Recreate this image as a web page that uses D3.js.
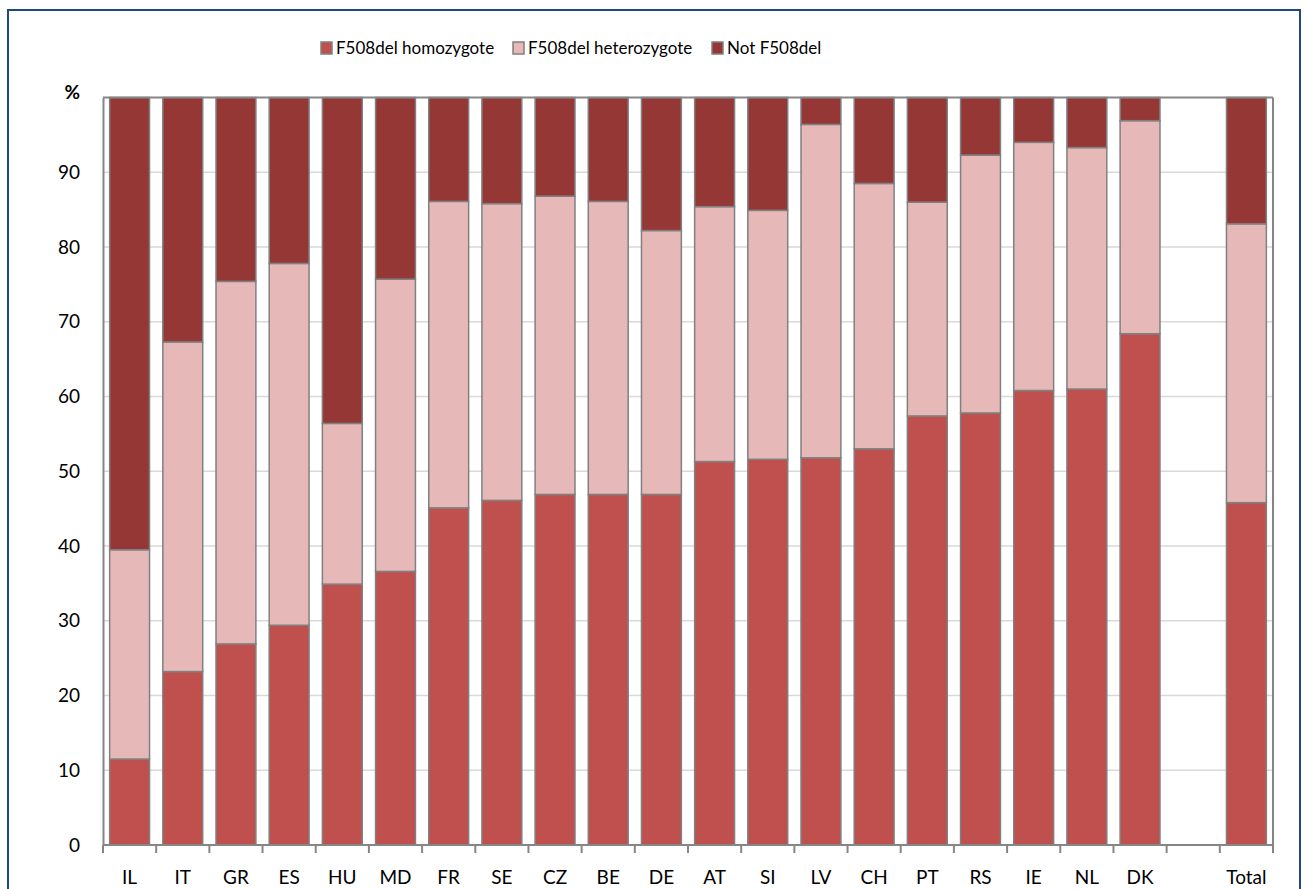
<!DOCTYPE html>
<html>
<head>
<meta charset="utf-8">
<script src="https://cdn.jsdelivr.net/npm/d3@7"></script>
<style>
  html, body { margin: 0; padding: 0; background: #fff; }
  svg { display: block; }
  text { font-family: Lato, "Open Sans", sans-serif; fill: #000; }
</style>
</head>
<body>
<svg id="chart" width="1308" height="889"></svg>
<script>
// ---- data ----
const categories = ["IL","IT","GR","ES","HU","MD","FR","SE","CZ","BE","DE","AT","SI","LV","CH","PT","RS","IE","NL","DK"," ","Total"];
const homozygote   = [11.5,23.2,26.9,29.4,34.9,36.6,45.1,46.1,46.9,46.9,46.9,51.3,51.6,51.8,53.0,57.4,57.8,60.8,61.0,68.4,null,45.8];
const heterozygote = [28.0,44.1,48.5,48.4,21.5,39.1,41.0,39.7,39.9,39.2,35.3,34.1,33.3,44.6,35.5,28.6,34.5,33.2,32.3,28.5,null,37.3];
const notF508del   = [60.5,32.7,24.6,22.2,43.6,24.3,13.9,14.2,13.2,13.9,17.8,14.6,15.1,3.6,11.5,14.0,7.7,6.0,6.7,3.1,null,16.9];
const seriesNames  = ["F508del homozygote","F508del heterozygote","Not F508del"];
const seriesColors = ["#c0504d","#e6b9b8","#953735"];
const yTicks = [0,10,20,30,40,50,60,70,80,90];

(function(){
// ---- layout ----
const svg = d3.select("#chart");
const pLeft = 103, pRight = 1273, pTop = 97.5, pBottom = 845;

// outer frame
svg.append("rect").attr("x",8).attr("y",10).attr("width",1292).attr("height",900)
  .attr("fill","none").attr("stroke","#1f497d").attr("stroke-width",2);

const x = d3.scaleBand().domain(categories).range([pLeft,pRight]).paddingInner(0.25).paddingOuter(0.125);
const y = d3.scaleLinear().domain([0,100]).range([pBottom,pTop]);

// gridlines
svg.append("g").selectAll("line").data(yTicks.filter(d=>d>0)).join("line")
  .attr("x1",pLeft).attr("x2",pRight).attr("y1",d=>y(d)).attr("y2",d=>y(d))
  .attr("stroke","#d9d9d9").attr("stroke-width",1.5);

// stacked data
const rows = categories.map((c,i)=>({cat:c, h:homozygote[i], he:heterozygote[i], n:notF508del[i]}));
const stack = d3.stack().keys(["h","he","n"]).value((d,k)=> d[k]==null ? 0 : d[k]);
const layers = stack(rows);

svg.append("g").selectAll("g").data(layers).join("g")
  .attr("fill",(d,i)=>seriesColors[i])
  .selectAll("rect").data(d=>d.filter(s=>s.data.h!=null)).join("rect")
  .attr("x",d=>x(d.data.cat))
  .attr("width",x.bandwidth())
  .attr("y",d=>y(d[1]))
  .attr("height",d=>y(d[0])-y(d[1]))
  .attr("stroke","#808080").attr("stroke-width",1.5);

// plot border (top/right)
svg.append("line").attr("x1",pLeft).attr("x2",pRight).attr("y1",pTop).attr("y2",pTop)
  .attr("stroke","#868686").attr("stroke-width",2);
svg.append("line").attr("x1",pRight).attr("x2",pRight).attr("y1",pTop).attr("y2",pBottom)
  .attr("stroke","#868686").attr("stroke-width",2);

// y axis
const yAxis = d3.axisLeft(y).tickValues(yTicks).tickSize(0).tickPadding(23);
const gy = svg.append("g").attr("transform",`translate(${pLeft},0)`).call(yAxis);
gy.select(".domain").attr("stroke","#868686").attr("stroke-width",2);
gy.selectAll("text").style("font-size","19px").style("font-family","Lato, sans-serif").attr("fill","#000");
svg.append("text").attr("x",pLeft-23).attr("y",y(100)).attr("dy","0.1em")
  .attr("text-anchor","end").style("font-size","19px").style("font-weight","bold").text("%");

// x axis with ticks at band boundaries
const gx = svg.append("g");
gx.append("line").attr("x1",pLeft).attr("x2",pRight).attr("y1",pBottom).attr("y2",pBottom)
  .attr("stroke","#868686").attr("stroke-width",2);
const step = x.step();
const bounds = d3.range(categories.length+1).map(i=> x(categories[0]) - x.paddingInner()*step/2 + i*step);
gx.selectAll("line.tk").data(bounds).join("line").attr("class","tk")
  .attr("x1",d=>d).attr("x2",d=>d).attr("y1",pBottom).attr("y2",pBottom+8)
  .attr("stroke","#868686").attr("stroke-width",2);
gx.selectAll("text").data(categories).join("text")
  .attr("x",d=>x(d)+x.bandwidth()/2).attr("y",884)
  .attr("text-anchor","middle").style("font-size","19px").text(d=>d.trim());

// legend
const legX = [321, 513, 712];
const leg = svg.append("g");
seriesNames.forEach((n,i)=>{
  leg.append("rect").attr("x",legX[i]).attr("y",42).attr("width",11).attr("height",12)
    .attr("fill",seriesColors[i]).attr("stroke","#808080").attr("stroke-width",1.5);
  leg.append("text").attr("x",legX[i]+15).attr("y",54).style("font-size","17px").text(n);
});
})();
</script>
</body>
</html>
